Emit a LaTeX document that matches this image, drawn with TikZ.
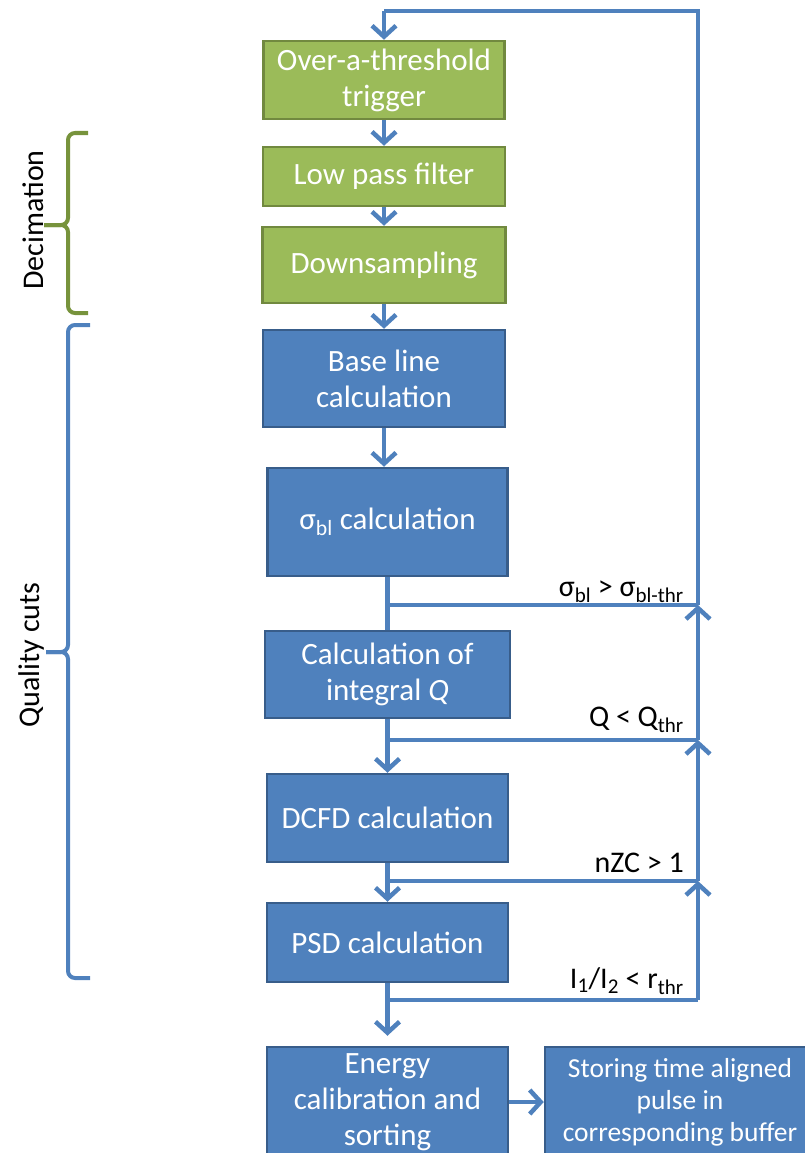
\documentclass[tikz,border=0pt]{standalone}
\usepackage{fontspec}
\setmainfont{Carlito}
\usetikzlibrary{arrows.meta}
\definecolor{boxblue}{HTML}{4F81BD}
\definecolor{edgeblue}{HTML}{385D8A}
\definecolor{boxgreen}{HTML}{9BBB59}
\definecolor{edgegreen}{HTML}{71893F}
\definecolor{bracegreen}{HTML}{77933C}
\begin{document}
\begin{tikzpicture}[x=1pt,y=-1pt,
    box/.style={draw=edgeblue, fill=boxblue, line width=2.5pt, text=white,
      align=center, inner sep=2pt, font=\fontsize{31}{36}\selectfont},
    gbox/.style={box, draw=edgegreen, fill=boxgreen},
    lbl/.style={inner sep=0pt, font=\fontsize{30}{36}\selectfont},
    flow/.style={draw=boxblue, line width=4.5pt},
    arr/.style={flow, -{Straight Barb[length=11pt,width=24pt]}},
    brace/.style={line width=4pt, rounded corners=7pt}]
  \useasboundingbox (0,0) rectangle (805,1153);
  \clip (0,0) rectangle (805,1153);
  \node[gbox, minimum width=241pt, minimum height=78pt] (trig) at (384,80) {Over-a-threshold\\trigger};
  \node[gbox, minimum width=242pt, minimum height=59pt] (lpf) at (384,176.5) {Low pass filter};
  \node[gbox, minimum width=243pt, minimum height=76pt] (down) at (384,265) {Downsampling};
  \node[box, minimum width=242pt, minimum height=97pt] (base) at (384,378.5) {Base line\\calculation};
  \node[box, minimum width=240pt, minimum height=108pt] (sig) at (387.5,522) {σ\textsubscript{bl} calculation};
  \node[box, minimum width=245pt, minimum height=87pt] (integ) at (387.5,674.5) {Calculation of\\integral \textit{Q}};
  \node[box, minimum width=241pt, minimum height=88pt] (dcfd) at (387.5,818) {DCFD calculation};
  \node[box, minimum width=241pt, minimum height=79pt] (psd) at (387.5,942.5) {PSD calculation};
  \node[box, minimum width=241pt, minimum height=110pt] (energy) at (387.5,1102) {Energy\\calibration and\\sorting};
  \node[box, minimum width=270pt, minimum height=110pt, font=\fontsize{27.5}{32}\selectfont] (store) at (680,1102) {Storing time aligned\\pulse in\\corresponding buffer};
  \node[lbl, anchor=base east] (csig) at (684,596) {σ\textsubscript{bl} > σ\textsubscript{bl-thr}};
  \node[lbl, anchor=base east] (cq) at (684,726) {Q < Q\textsubscript{thr}};
  \node[lbl, anchor=base east] (czc) at (684,872) {nZC > 1};
  \node[lbl, anchor=base east] (cpsd) at (684,988) {I\textsubscript{1}/I\textsubscript{2} < r\textsubscript{thr}};
  \node[lbl, rotate=90] (dec) at (33,220) {Decimation};
  \node[lbl, rotate=90] (qual) at (32,655) {Quality cuts};
  \coordinate (j1) at (387.5,605);
  \coordinate (j2) at (387.5,740);
  \coordinate (j3) at (387.5,881);
  \coordinate (j4) at (387.5,1000);
  \coordinate (r1) at (698,605);
  \coordinate (r2) at (698,740);
  \coordinate (r3) at (698,881);
  \coordinate (r4) at (698,1000);
  \coordinate (tr) at (698,11);
  \coordinate (tl) at (384,11);
  \draw[arr] (tl) to (trig);
  \draw[arr] (trig) to (lpf);
  \draw[arr] (lpf) to (down);
  \draw[arr] (down) to (base);
  \draw[arr] (base.south) to (base.south |- sig.north);
  \draw[flow] (sig) to (integ);
  \draw[arr] (integ) to (dcfd);
  \draw[arr] (dcfd) to (psd);
  \draw[arr] (psd.south) -- (j4) -- ([yshift=10pt]energy.north);
  \draw[arr] (energy) to (store);
  \draw[flow] (j1) -- (r1);
  \draw[flow] (j2) -- (r2);
  \draw[flow] (j3) -- (r3);
  \draw[flow] (j4) -- (r4);
  \draw[arr] (r4) to (r3);
  \draw[arr] (r3) to (r2);
  \draw[arr] (r2) to (r1);
  \draw[flow, line join=miter] (r1) -- (tr) -- (tl);
  \draw[brace, bracegreen] (88,133) -- (68,133) -- (68,225) -- (44,225);
  \draw[brace, bracegreen] (44,225) -- (68,225) -- (68,313) -- (88,313);
  \draw[brace, boxblue] (90,325) -- (68,325) -- (68,652) -- (46,652);
  \draw[brace, boxblue] (46,652) -- (68,652) -- (68,978) -- (90,978);
\end{tikzpicture}
\end{document}
